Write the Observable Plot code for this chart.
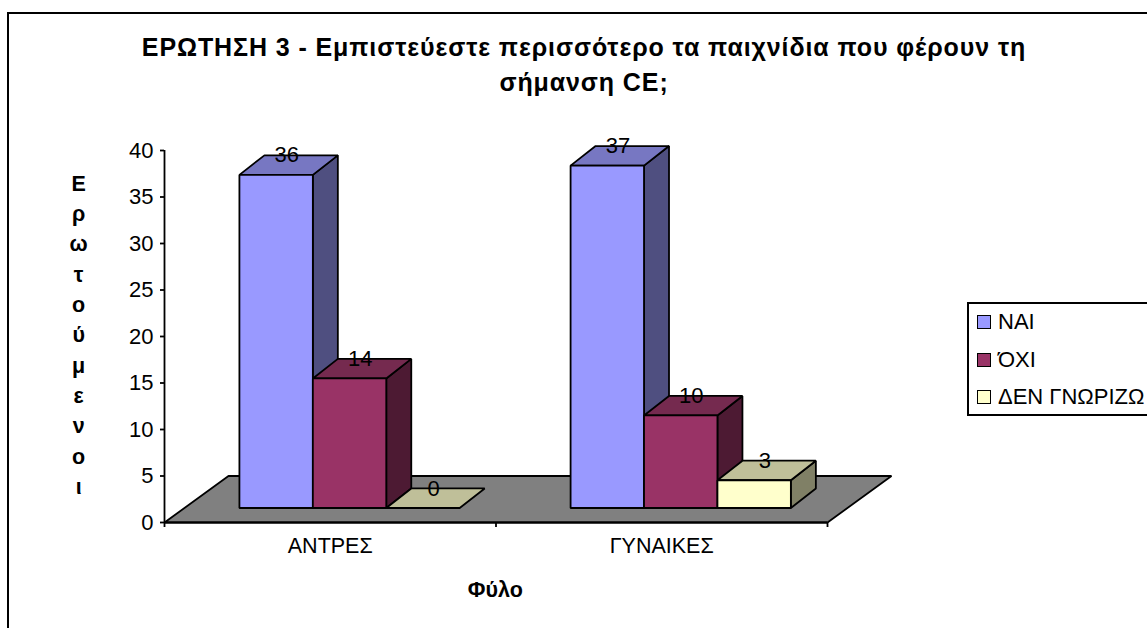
<!DOCTYPE html>
<html><head><meta charset="utf-8">
<script src="https://cdn.jsdelivr.net/npm/d3@7"></script>
<script src="https://cdn.jsdelivr.net/npm/@observablehq/plot@0.6"></script>
<style>
html,body{margin:0;padding:0;background:#fff;overflow:hidden}
#wrap{position:relative;width:1147px;height:628px;overflow:hidden;font-family:"Liberation Sans",Arial,sans-serif;color:#000}
#frame{position:absolute;left:7px;top:12px;width:1160px;height:640px;border:2px solid #000;box-sizing:border-box}
#title{position:absolute;left:84px;top:30px;width:1000px;text-align:center;font-weight:bold;font-size:25px;line-height:35px;letter-spacing:0.9px}
#legend{position:absolute;left:967px;top:302px;width:200px;height:114px;border:2px solid #000;box-sizing:border-box;background:#fff;font-size:22px}
.item{position:absolute;left:8px;display:flex;align-items:center;white-space:nowrap}
.sw{width:14px;height:14px;box-sizing:border-box;border:1.5px solid #000;margin-right:7px;flex:none}
svg{position:absolute;left:0;top:0}
</style></head>
<body><div id="wrap"><div id="frame"></div>
<div id="title"></div><div id="legend"></div></div>
<script>
const titleLines = ["ΕΡΩΤΗΣΗ 3 - Εμπιστεύεστε περισσότερο τα παιχνίδια που φέρουν τη","σήμανση CE;"];
const categories = ["ΑΝΤΡΕΣ","ΓΥΝΑΙΚΕΣ"];
const seriesNames = ["ΝΑΙ","ΌΧΙ","ΔΕΝ ΓΝΩΡΙΖΩ"];
const naiValues = [36,37];
const oxiValues = [14,10];
const dkValues = [0,3];
const frontColors = ["#9999FF","#993366","#FFFFCC"];
const topColors = ["#7777C2","#752A4F","#BFBF99"];
const sideColors = ["#4F4F80","#4D1A33","#808066"];
const yTicks = [0,5,10,15,20,25,30,35,40];
const yAxisTitle = "Ερωτούμενοι";
const xAxisTitle = "Φύλο";

// depth projection of the pseudo-3D chart, in scale units
const floorDX = 0.193, floorDY = 5;
const barDX = 0.0754, barDY = 2.1, barBase = 1.56, barWidth = 0.2215, valueK = 0.995;
const groupStart = [0.226, 1.225];

const allValues = [naiValues, oxiValues, dkValues];
const polys = [];
const poly = (id, fill, pts) => pts.forEach(([x,y]) => polys.push({id, fill, x, y}));
poly("floor", "#808080", [[0,0],[2,0],[2+floorDX,floorDY],[floorDX,floorDY]]);
const labels = [];
categories.forEach((c,g) => {
  allValues.forEach((vals,s) => {
    const v = vals[g];
    const x0 = groupStart[g] + s*barWidth, x1 = x0 + barWidth;
    const y1 = barBase + v*valueK;
    const id = `${g}-${s}`;
    if (v > 0) {
      poly(id+"side", sideColors[s], [[x1,barBase],[x1+barDX,barBase+barDY],[x1+barDX,y1+barDY],[x1,y1]]);
    }
    poly(id+"top", topColors[s], [[x0,y1],[x1,y1],[x1+barDX,y1+barDY],[x0+barDX,y1+barDY]]);
    if (v > 0) {
      poly(id+"front", frontColors[s], [[x0,barBase],[x1,barBase],[x1,y1],[x0,y1]]);
    }
    labels.push({x:(x0+x1)/2+0.032, y:y1+barDY, text:String(v)});
  });
});

const chart = Plot.plot({
  width:1147, height:628,
  marginLeft:164, marginRight:320, marginTop:150, marginBottom:106,
  x:{domain:[0,2]},
  y:{domain:[0,40]},
  color:{type:"identity"},
  style:{fontFamily:'"Liberation Sans",Arial,sans-serif',background:"transparent",overflow:"visible"},
  marks:[
    Plot.line(polys,{x:"x",y:"y",z:"id",fill:"fill",stroke:"#000",strokeWidth:1.8,curve:"linear-closed",strokeLinejoin:"miter"}),
    Plot.ruleX([0],{y1:0,y2:40,stroke:"#000",strokeWidth:1.8}),
    Plot.ruleY([0],{x1:0,x2:2,stroke:"#000",strokeWidth:1.8}),
    Plot.axisY({ticks:yTicks,tickSize:4,tickPadding:7,label:null,fontSize:22,stroke:"#000",strokeWidth:1.8,color:"#000"}),
    Plot.axisX({ticks:[0,1,2],tickSize:5,tickFormat:()=>"",label:null,stroke:"#000",strokeWidth:1.8}),
    Plot.axisX({ticks:[0.5,1.5],tickSize:0,tickPadding:15,tickFormat:d=>categories[Math.floor(d)],label:null,fontSize:21.5,color:"#000",stroke:"none"}),
    Plot.text(labels,{x:"x",y:"y",text:"text",fontSize:22,fill:"#000"}),
    Plot.text([yAxisTitle],{x:[-0.259],y:[20.42],text:d=>d.split("").join("\n"),lineHeight:1.41,fontSize:21.5,fontWeight:"bold",fill:"#000"}),
    Plot.text([xAxisTitle],{x:[0.998],y:[-7.3],fontSize:21.5,fontWeight:"bold",fill:"#000",text:d=>d,style:{letterSpacing:"3px"}})
  ]
});
document.getElementById("wrap").appendChild(chart);
document.getElementById("title").innerHTML = titleLines.join("<br>");
const lg = document.getElementById("legend");
seriesNames.forEach((n,i)=>{
  const it=document.createElement("div");it.className="item";it.style.top=(5+i*37.7)+"px";
  it.innerHTML=`<span class="sw" style="background:${frontColors[i]}"></span><span>${n}</span>`;
  lg.appendChild(it);
});
lg.style.zIndex=2;
</script></body></html>
